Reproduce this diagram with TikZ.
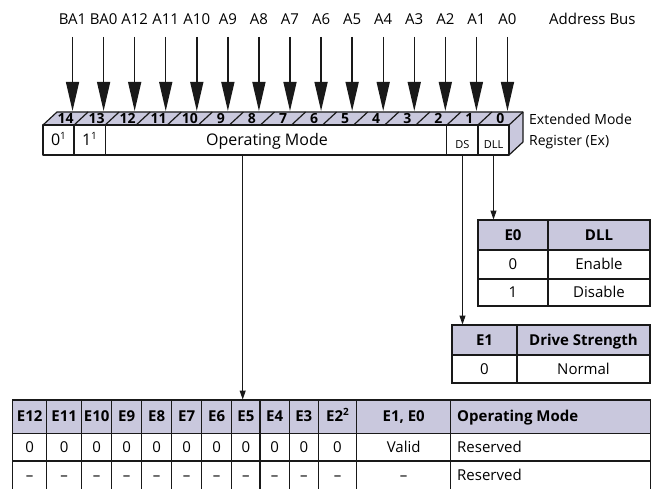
\documentclass[tikz,border=0pt]{standalone}
\usepackage{fontspec}
\setmainfont{Open Sans}
\usetikzlibrary{arrows.meta}
\definecolor{lav}{RGB}{201,200,221}
\definecolor{ln}{RGB}{25,25,25}
\newcommand\mysup[1]{\raisebox{0.42em}{\fontsize{10}{10}\selectfont #1}}
\begin{document}
\begin{tikzpicture}[x=1pt,y=-1pt,
  txt/.style={font=\fontsize{15}{17}\selectfont, inner sep=0pt, text height=11pt, text depth=2pt},
  bigtxt/.style={font=\fontsize{16}{18}\selectfont, inner sep=0pt, text height=11.5pt, text depth=2pt},
  sidetxt/.style={font=\fontsize{14}{16}\selectfont, inner sep=0pt, anchor=base west},
  hdr/.style={font=\fontsize{15}{17}\selectfont\bfseries, inner sep=0pt, text height=11pt, text depth=2pt},
  bitnum/.style={font=\fontsize{14}{16}\selectfont\bfseries, inner sep=0pt, text height=10pt, text depth=0pt},
  smalltxt/.style={font=\fontsize{11}{13}\selectfont, inner sep=0pt, text height=8pt, text depth=1pt},
  reg/.style={draw=ln, line width=1.2pt, line join=round},
  tab/.style={draw=ln, line width=1.2pt},
  busarrow/.style={draw=ln, line width=1.4pt, -{Triangle[length=29pt,width=13pt]}},
  smallarrow/.style={draw=ln, line width=1pt, -{Triangle[length=9pt,width=6pt]}},
]
\useasboundingbox (0,0) rectangle (663,489);
\def\W{31.0667}
% ---------- register ----------
\fill[lav] (43,125) -- (57,112) -- (523,112) -- (509,125) -- cycle;
\fill[lav] (509,125) -- (523,112) -- (523,142) -- (509,155) -- cycle;
\fill[white] (43,125) rectangle (509,155);
\draw[reg] (43,125) rectangle (509,155);
\draw[reg] (43,125) -- (57,112) -- (523,112) -- (523,142) -- (509,155);
\draw[reg] (523,112) -- (509,125);
\foreach \k in {1,...,14} \draw[reg] ({43+\k*\W},125) -- ({57+\k*\W},112);
\foreach \k in {1,2,13,14} \draw[reg] ({43+\k*\W},125) -- ({43+\k*\W},155);
\foreach \k [evaluate=\k as \n using {int(14-\k)}] in {0,...,14}
  \node[bitnum] (bit\n) at ({50+(\k+0.5)*\W},118.5) {\n};
% ---------- address bus ----------
\foreach \k/\t in {0/BA1,1/BA0,2/A12,3/A11,4/A10,5/A9,6/A8,7/A7,8/A6,9/A5,10/A4,11/A3,12/A2,13/A1,14/A0} {
  \node[txt] (lab\k) at ({57+(\k+0.5)*\W},20) {\t};
  \coordinate (s\k) at ({57+(\k+0.5)*\W},37);
  \coordinate (e\k) at ({57+(\k+0.5)*\W},111);
  \draw[busarrow] (s\k) -- (e\k);
}
\node[txt, anchor=west] (ab) at (549,20) {Address Bus};
\node[sidetxt] (emr1) at (529,125) {Extended Mode};
\node[sidetxt] (emr2) at (529,146) {Register (Ex)};
% front face texts
\node[bigtxt] (f14) at (58.5,141) {0\mysup{1}};
\node[bigtxt] (f13) at (89.5,141) {1\mysup{1}};
\node[bigtxt] (opm) at (267,141) {Operating Mode};
\node[smalltxt] (ds) at (462.5,145) {DS};
\node[smalltxt] (dll) at (493.5,145) {DLL};
\coordinate (dsb) at (462.5,155);
\coordinate (dllb) at (493.5,155);
\coordinate (opb) at (242.7,155);
\coordinate (e0top) at (493.5,219.5);
\coordinate (e1top) at (462.5,324.5);
\coordinate (optop) at (242.7,399.5);
\draw[smallarrow] (dllb) -- (e0top);
\draw[smallarrow] (dsb) -- (e1top);
\draw[smallarrow] (opb) -- (optop);
% ---------- E0 table ----------
\fill[lav] (478,220) rectangle (650,250);
\draw[tab] (478,220) rectangle (650,306);
\draw[tab] (478,250) -- (650,250);
\draw[tab] (478,279) -- (650,279);
\draw[tab] (548,220) -- (548,306);
\node[hdr] (e0h) at (513,236) {E0};
\node[hdr] (dllh) at (599,236) {DLL};
\node[txt] (e0a) at (513,265) {0};
\node[txt] (e0b) at (599,265) {Enable};
\node[txt] (e0c) at (513,293) {1};
\node[txt] (e0d) at (599,293) {Disable};
% ---------- E1 table ----------
\fill[lav] (452,325) rectangle (650,355);
\draw[tab] (452,325) rectangle (650,383);
\draw[tab] (452,355) -- (650,355);
\draw[tab] (517,325) -- (517,383);
\node[hdr] (e1h) at (484.5,341) {E1};
\node[hdr] (dsh) at (583.5,341) {Drive Strength};
\node[txt] (e1a) at (484.5,370) {0};
\node[txt] (e1b) at (583.5,370) {Normal};
% ---------- bottom table ----------
\fill[lav] (12.7,400) rectangle (650.7,433.5);
\draw[tab] (12.7,400) rectangle (650.7,495);
\draw[tab] (12.7,433.5) -- (650.7,433.5);
\draw[tab] (12.7,461) -- (650.7,461);
\foreach \x in {46.7,81.7,111.7,141.7,171.7,201.7,231.7,260,289.3,318.3,356.7,450.7}
  \draw[tab] (\x,400) -- (\x,495);
\foreach \a/\b/\t [count=\i] in {12.7/46.7/E12,46.7/81.7/E11,81.7/111.7/E10,111.7/141.7/E9,141.7/171.7/E8,171.7/201.7/E7,201.7/231.7/E6,231.7/260/E5,260/289.3/E4,289.3/318.3/E3} {
  \node[hdr] (h\i) at ({(\a+\b)/2},417) {\t};
  \node[txt] (r\i) at ({(\a+\b)/2},448) {0};
  \node[txt] (q\i) at ({(\a+\b)/2},476) {–};
}
\node[hdr] (h11) at (337.5,417) {E2\mysup{2}};
\node[txt] (r11) at (337.5,448) {0};
\node[txt] (q11) at (337.5,476) {–};
\node[hdr] (h12) at (403.7,417) {E1, E0};
\node[txt] (r12) at (403.7,448) {Valid};
\node[txt] (q12) at (403.7,476) {–};
\node[hdr, anchor=west] (h13) at (457,417) {Operating Mode};
\node[txt, anchor=west] (r13) at (457,448) {Reserved};
\node[txt, anchor=west] (q13) at (457,476) {Reserved};
\end{tikzpicture}
\end{document}
